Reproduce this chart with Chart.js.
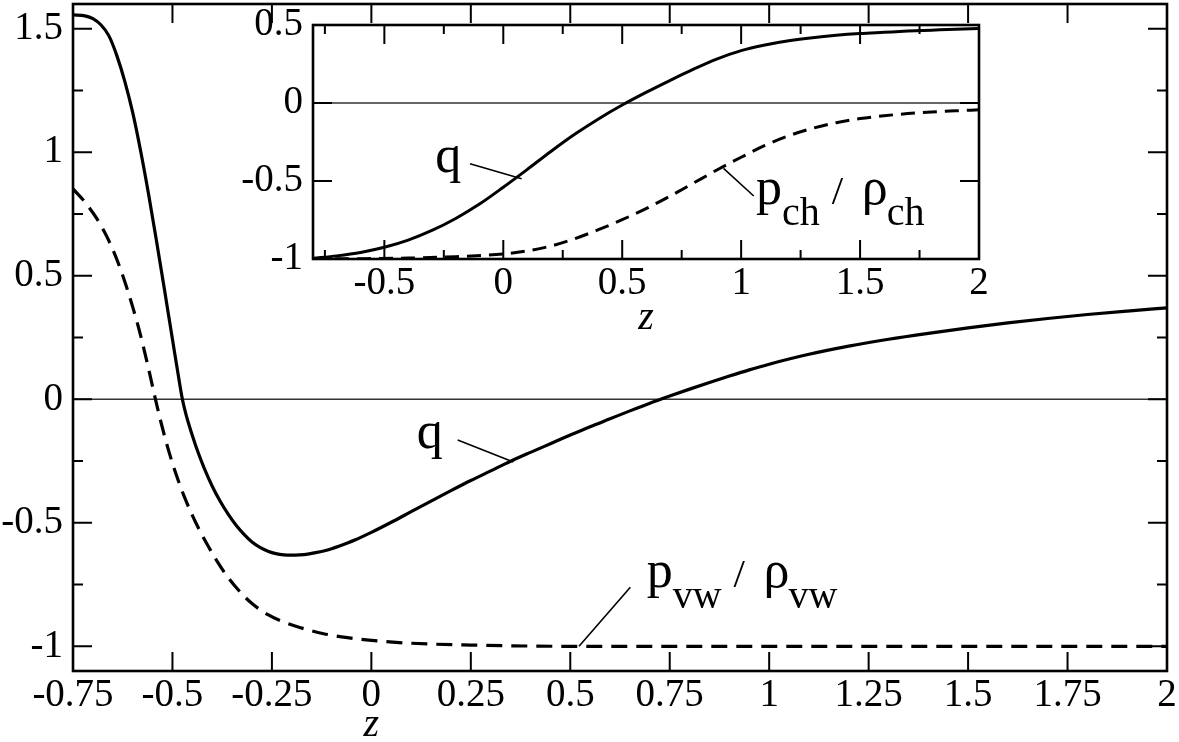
<!DOCTYPE html>
<html><head><meta charset="utf-8">
<script src="https://cdn.jsdelivr.net/npm/chart.js@4.4.1/dist/chart.umd.min.js"></script>
<style>
html,body{margin:0;padding:0;background:#fff;}
#wrap{position:relative;width:1179px;height:742px;overflow:hidden;}
#main{position:absolute;left:0;top:0;}
#inset{position:absolute;left:230px;top:0;}
</style></head><body>
<div id="wrap">
<canvas id="main" width="1179" height="742"></canvas>
<canvas id="inset" width="760" height="340"></canvas>
</div>
<script>
// ---------- data ----------
const mainQz = [-0.75,-0.72,-0.70,-0.68,-0.66,-0.64,-0.62,-0.60,-0.58,-0.56,-0.54,-0.52,-0.50,-0.48,-0.475,-0.47,-0.465,-0.46,-0.45,-0.44,-0.42,-0.40,-0.38,-0.36,-0.34,-0.32,-0.30,-0.28,-0.26,-0.24,-0.22,-0.20,-0.18,-0.16,-0.14,-0.12,-0.10,-0.08,-0.06,-0.04,-0.02,0,0.05,0.10,0.15,0.20,0.25,0.30,0.35,0.40,0.45,0.50,0.55,0.60,0.65,0.70,0.75,0.80,0.85,0.90,0.95,1.00,1.10,1.20,1.30,1.40,1.50,1.60,1.70,1.80,1.90,2.00];
const mainQ  = [1.556,1.552,1.541,1.516,1.472,1.392,1.288,1.161,1.005,0.830,0.640,0.443,0.243,0.045,0.000,-0.036,-0.067,-0.095,-0.147,-0.195,-0.280,-0.352,-0.413,-0.465,-0.510,-0.547,-0.578,-0.600,-0.615,-0.625,-0.630,-0.631,-0.630,-0.627,-0.621,-0.614,-0.605,-0.594,-0.582,-0.569,-0.554,-0.539,-0.498,-0.455,-0.412,-0.370,-0.329,-0.290,-0.251,-0.215,-0.180,-0.145,-0.111,-0.079,-0.047,-0.016,0.013,0.041,0.068,0.094,0.119,0.142,0.182,0.215,0.243,0.267,0.289,0.309,0.327,0.343,0.357,0.370];

const mainPz = [-0.75,-0.72,-0.69,-0.66,-0.63,-0.60,-0.58,-0.56,-0.545,-0.53,-0.51,-0.49,-0.47,-0.45,-0.43,-0.41,-0.39,-0.36,-0.33,-0.30,-0.26,-0.22,-0.18,-0.12,-0.06,0,0.07,0.15,0.25,0.35,0.50,0.75,1.00,1.50,2.00];
const mainP  = [0.852,0.798,0.731,0.642,0.524,0.374,0.258,0.123,0.016,-0.086,-0.206,-0.308,-0.395,-0.470,-0.536,-0.595,-0.650,-0.722,-0.780,-0.827,-0.872,-0.902,-0.924,-0.949,-0.965,-0.976,-0.985,-0.991,-0.995,-0.998,-1.000,-1.000,-1.000,-1.000,-1.000];

const insetQz = [-0.80,-0.70,-0.60,-0.50,-0.40,-0.30,-0.20,-0.10,0.00,0.10,0.20,0.30,0.40,0.50,0.60,0.70,0.80,0.90,1.00,1.10,1.20,1.30,1.40,1.50,1.60,1.70,1.80,1.90,2.00];
const insetQ  = [-0.996,-0.980,-0.958,-0.925,-0.879,-0.817,-0.740,-0.648,-0.540,-0.427,-0.311,-0.201,-0.102,-0.013,0.068,0.144,0.217,0.283,0.336,0.372,0.399,0.419,0.434,0.445,0.453,0.461,0.467,0.473,0.478];

const insetPz = [-0.80,-0.60,-0.40,-0.20,0.00,0.10,0.20,0.30,0.40,0.50,0.60,0.70,0.80,0.90,1.00,1.10,1.20,1.30,1.40,1.50,1.60,1.70,1.80,1.90,2.00];
const insetP  = [-1.000,-0.998,-0.994,-0.985,-0.968,-0.948,-0.917,-0.870,-0.812,-0.748,-0.677,-0.598,-0.513,-0.428,-0.348,-0.272,-0.210,-0.162,-0.126,-0.100,-0.082,-0.068,-0.058,-0.050,-0.044];

// tick values
const mainXTicks  = [-0.75,-0.5,-0.25,0,0.25,0.5,0.75,1,1.25,1.5,1.75,2];
const mainYTicks  = [-1,-0.5,0,0.5,1,1.5];
const mainYMinor  = [-0.75,-0.25,0.25,0.75,1.25];
const insetXTicks = [-0.5,0,0.5,1,1.5,2];
const insetXMinor = [-0.75,-0.25,0.25,0.75,1.25,1.75];
const insetYTicks = [-1,-0.5,0,0.5];

// annotation anchors (data coordinates)
const mainQLabel   = {x:0.114, y:-0.199};
const mainQLeader  = [[0.217,-0.165],[0.357,-0.254]];
const mainPLabel   = {x:0.692, y:-0.759};
const mainPLeader  = [[0.651,-0.761],[0.522,-1.0]];
const insetQLabel  = {x:-0.286, y:-0.445};
const insetQLeader = [[-0.140,-0.389],[0.077,-0.485]];
const insetPLabel  = {x:1.062, y:-0.649};
const insetPLeader = [[0.926,-0.419],[1.053,-0.596]];

// ---------- helpers ----------
const SERIF = '"Liberation Serif", "Times New Roman", serif';
const pts = (xs, ys) => xs.map((v,i)=>({x:v, y:ys[i]}));

function drawRatio(ctx, px, py, sub){
  const big = '52px ' + SERIF, small = '40px ' + SERIF, slash = '41px ' + SERIF;
  ctx.textAlign = 'left'; ctx.textBaseline = 'alphabetic';
  ctx.font = big; ctx.fillText('p', px, py);
  let xx = px + 26;
  ctx.font = small; ctx.fillText(sub, xx, py + 21);
  xx += ctx.measureText(sub).width + 12;
  ctx.font = slash; ctx.fillText('/', xx, py);
  xx += 30;
  ctx.font = big; ctx.fillText('\u03C1', xx, py);
  xx += 25;
  ctx.font = small; ctx.fillText(sub, xx, py + 21);
}

function makePlugin(cfg){
  return {
    id: 'decor',
    beforeDatasetsDraw(chart){
      const {ctx, chartArea:a, scales:{y}} = chart;
      const y0 = y.getPixelForValue(0);
      ctx.save();
      ctx.strokeStyle = '#333'; ctx.lineWidth = 1.6;
      ctx.beginPath(); ctx.moveTo(a.left, y0); ctx.lineTo(a.right, y0); ctx.stroke();
      ctx.restore();
    },
    afterDatasetsDraw(chart){
      const {ctx, chartArea:a, scales:{x, y}} = chart;
      ctx.save();
      ctx.strokeStyle = '#000'; ctx.lineWidth = 2;
      ctx.beginPath();
      const vx = (vals, len) => vals.forEach(v=>{const p=x.getPixelForValue(v);
        ctx.moveTo(p,a.bottom); ctx.lineTo(p,a.bottom-len); ctx.moveTo(p,a.top); ctx.lineTo(p,a.top+len);});
      const vy = (vals, len) => vals.forEach(v=>{const p=y.getPixelForValue(v);
        ctx.moveTo(a.left,p); ctx.lineTo(a.left+len,p); ctx.moveTo(a.right,p); ctx.lineTo(a.right-len,p);});
      vx(cfg.xMajor, cfg.major); vx(cfg.xMinor, cfg.minor);
      vy(cfg.yMajor, cfg.major); vy(cfg.yMinor, cfg.minor);
      ctx.stroke();
      ctx.lineWidth = 2.6;
      ctx.strokeRect(a.left, a.top, a.right-a.left, a.bottom-a.top);
      // leaders
      ctx.lineWidth = 1.6;
      ctx.beginPath();
      cfg.leaders.forEach(l=>{
        ctx.moveTo(x.getPixelForValue(l[0][0]), y.getPixelForValue(l[0][1]));
        ctx.lineTo(x.getPixelForValue(l[1][0]), y.getPixelForValue(l[1][1]));
      });
      ctx.stroke();
      // labels
      ctx.fillStyle = '#000';
      ctx.font = '52px ' + SERIF; ctx.textAlign='left'; ctx.textBaseline='alphabetic';
      ctx.fillText('q', x.getPixelForValue(cfg.qLabel.x), y.getPixelForValue(cfg.qLabel.y));
      drawRatio(ctx, x.getPixelForValue(cfg.pLabel.x), y.getPixelForValue(cfg.pLabel.y), cfg.sub);
      // axis title
      ctx.font = 'italic 40px ' + SERIF; ctx.textAlign='center';
      const tx = cfg.titleAtZero ? x.getPixelForValue(0) : (a.left+a.right)/2;
      ctx.fillText('z', tx, a.bottom + cfg.titleDrop);
      ctx.restore();
    }
  };
}

function axisFix(w){ return function(scale){ scale.paddingTop=0; scale.paddingBottom=0; scale.paddingLeft=0; scale.paddingRight=0; if (w.width!==undefined) scale.width=w.width; if (w.height!==undefined) scale.height=w.height; }; }
const fmt = v => String(v);

function makeChart(id, o){
  return new Chart(document.getElementById(id), {
    type: 'scatter',
    data: { datasets: [
      { data: pts(o.qz, o.q), showLine:true, borderColor:'#000', borderWidth:o.lw, pointRadius:0, cubicInterpolationMode:'monotone', fill:false },
      { data: pts(o.pz, o.p), showLine:true, borderColor:'#000', borderWidth:o.lw, borderDash:o.dash, pointRadius:0, cubicInterpolationMode:'monotone', fill:false }
    ]},
    options: {
      responsive:false, animation:false, events:[],
      layout:{ padding:{ top:o.padTop, right:o.padRight, left:0, bottom:0 } },
      plugins:{ legend:{display:false}, tooltip:{enabled:false} },
      scales:{
        x:{ type:'linear', min:o.xmin, max:o.xmax,
            afterBuildTicks: s => { s.ticks = o.xTicks.map(v=>({value:v})); },
            afterFit: axisFix({height:o.xH}),
            grid:{display:false, drawTicks:false}, border:{display:false},
            ticks:{ autoSkip:false, maxRotation:0, padding:o.xPad, color:'#000', font:{family:SERIF, size:39, lineHeight:1.2}, callback:fmt } },
        y:{ type:'linear', min:o.ymin, max:o.ymax,
            afterBuildTicks: s => { s.ticks = o.yTicks.map(v=>({value:v})); },
            afterFit: axisFix({width:o.yW}),
            grid:{display:false, drawTicks:false}, border:{display:false},
            ticks:{ autoSkip:false, padding:10, color:'#000', font:{family:SERIF, size:39, lineHeight:1.2}, callback:fmt } }
      }
    },
    plugins:[ makePlugin(o.decor) ]
  });
}

makeChart('main', {
  qz:mainQz, q:mainQ, pz:mainPz, p:mainP, lw:3.2, dash:[16,9],
  xmin:-0.75, xmax:2, ymin:-1.1, ymax:1.6, xTicks:mainXTicks, yTicks:mainYTicks,
  padTop:4, padRight:12, xH:71, yW:73, xPad:1,
  decor:{ xMajor:mainXTicks, xMinor:[], yMajor:mainYTicks, yMinor:mainYMinor, major:19, minor:10,
          leaders:[mainQLeader, mainPLeader], qLabel:mainQLabel, pLabel:mainPLabel, sub:'vw',
          titleAtZero:true, titleDrop:65 }
});

makeChart('inset', {
  qz:insetQz, q:insetQ, pz:insetPz, p:insetP, lw:3, dash:[14,8],
  xmin:-0.8, xmax:2, ymin:-1, ymax:0.5, xTicks:insetXTicks, yTicks:insetYTicks,
  padTop:25, padRight:11, xH:81, yW:83, xPad:1,
  decor:{ xMajor:insetXTicks, xMinor:insetXMinor, yMajor:insetYTicks, yMinor:[], major:19, minor:9,
          leaders:[insetQLeader, insetPLeader], qLabel:insetQLabel, pLabel:insetPLabel, sub:'ch',
          titleAtZero:false, titleDrop:70 }
});
</script>
</body></html>
